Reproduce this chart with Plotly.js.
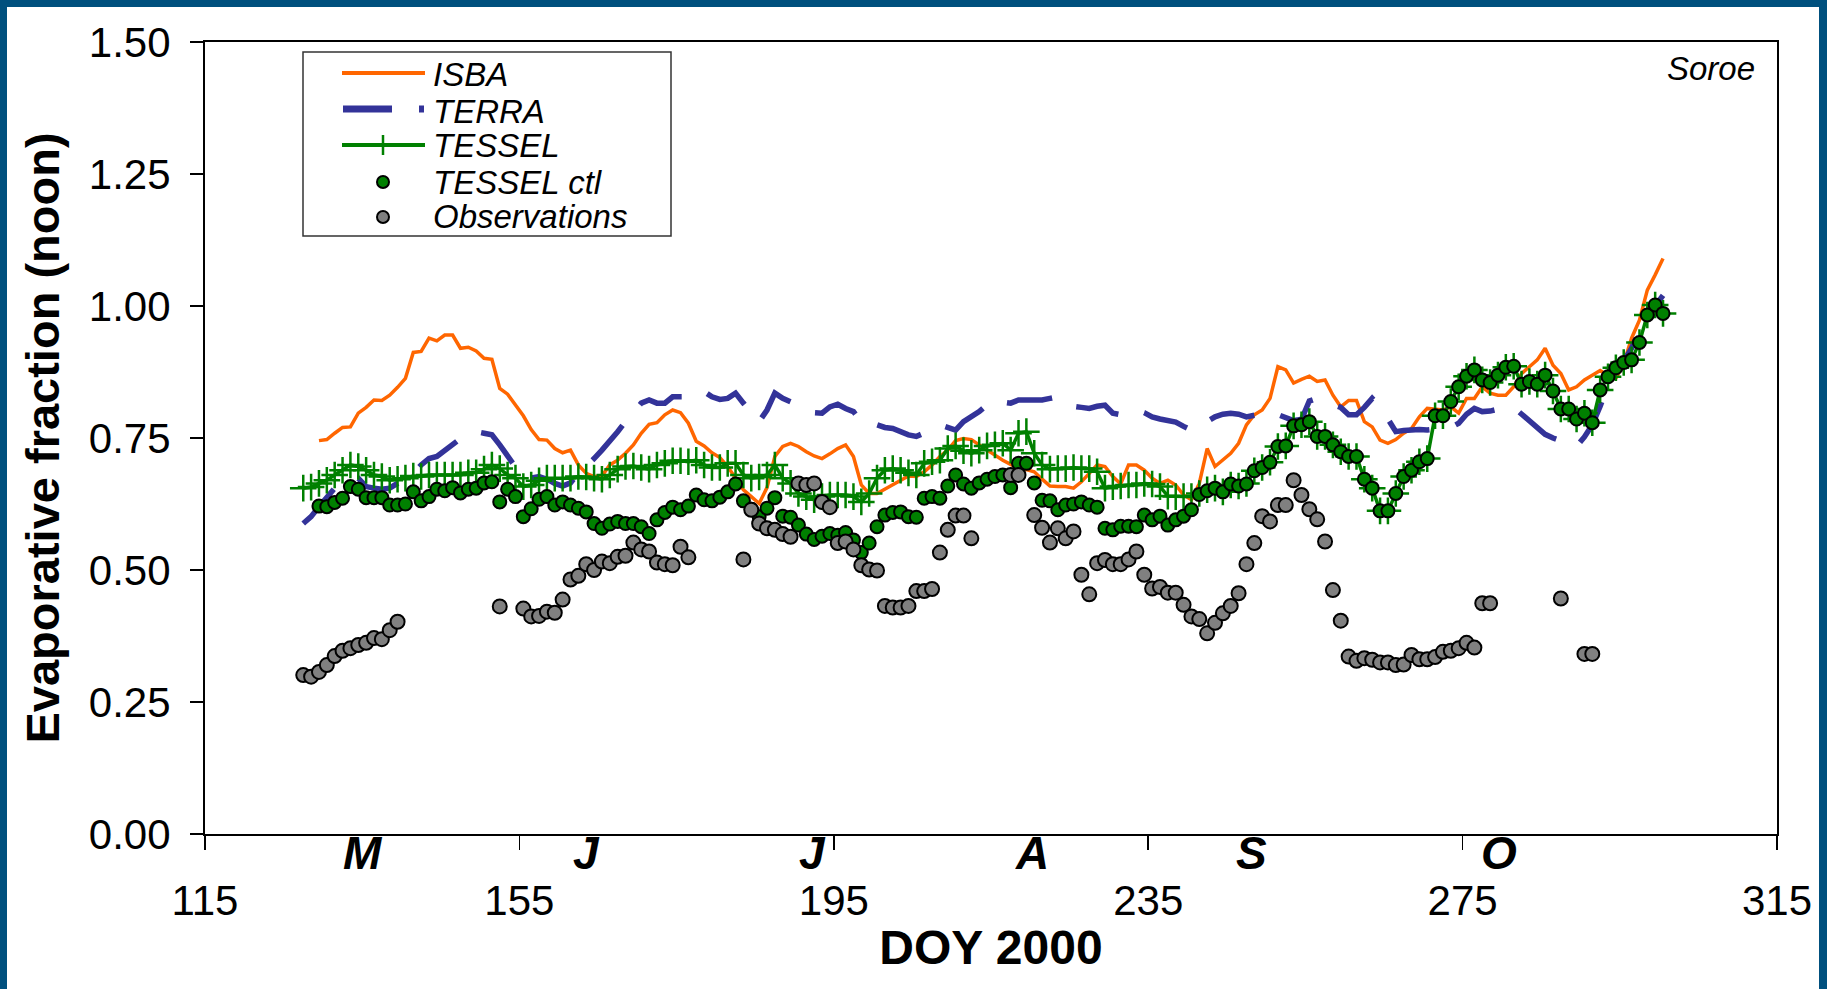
<!DOCTYPE html>
<html><head><meta charset="utf-8">
<script src="https://cdn.plot.ly/plotly-3.0.1.min.js"></script>
<style>
html,body{margin:0;padding:0;background:#00507E;width:1827px;height:989px;overflow:hidden}
#frame{position:absolute;left:7px;top:7px;width:1812px;height:982px;background:#fff}
#chart{width:1812px;height:982px}
</style></head><body><div id="frame"><div id="chart"></div></div>
<script>
// ---------------- DATA (daily noon values, DOY 2000) ----------------
const isbaStart = 129.5;
const isba = [
0.745,0.747,0.759,0.770,0.771,0.797,0.808,0.822,0.821,0.831,
0.846,0.863,0.912,0.914,0.939,0.934,0.945,0.945,0.920,0.922,
0.915,0.901,0.899,0.844,0.833,0.813,0.792,0.766,0.747,0.746,
0.730,0.722,0.727,0.699,0.683,0.677,0.678,0.699,0.708,0.721,
0.737,0.759,0.776,0.779,0.794,0.803,0.798,0.778,0.744,0.735,
0.722,0.713,0.696,0.674,0.652,0.639,0.626,0.656,0.715,0.734,
0.740,0.734,0.724,0.716,0.711,0.720,0.730,0.737,0.715,0.661,
0.645,0.645,0.653,0.661,0.670,0.678,0.677,0.686,0.699,0.715,
0.727,0.745,0.749,0.747,0.737,0.727,0.718,0.708,0.700,0.693,
0.690,0.686,0.672,0.659,0.658,0.658,0.655,0.667,0.683,0.699,
0.696,0.677,0.663,0.699,0.699,0.689,0.674,0.664,0.670,0.661,
0.642,0.633,0.664,0.730,0.696,0.708,0.721,0.740,0.775,0.794,
0.803,0.825,0.885,0.879,0.854,0.861,0.867,0.857,0.860,0.831,
0.809,0.821,0.821,0.781,0.771,0.746,0.740,0.747,0.759,0.768,
0.790,0.806,0.804,0.803,0.809,0.797,0.825,0.825,0.847,0.835,
0.831,0.831,0.847,0.872,0.885,0.898,0.920,0.888,0.872,0.841,
0.847,0.860,0.869,0.878,0.869,0.863,0.891,0.939,0.973,1.030,
1.059,1.090];

const terraStart = 127.5;
const terra = [
0.588,0.601,0.620,0.639,0.655,0.664,0.674,0.674,0.658,0.655,
0.653,0.655,0.664,0.674,0.683,0.699,0.711,0.715,0.727,0.740,
0.749,0.758,0.762,0.759,0.756,0.737,0.715,0.692,0.674,0.674,
0.677,0.672,0.664,0.659,0.665,0.683,0.696,0.711,0.727,0.743,
0.762,0.781,0.798,0.816,0.822,0.816,0.816,0.828,0.828,0.828,
0.833,0.838,0.828,0.823,0.825,0.835,0.816,0.797,0.781,0.803,
0.835,0.825,0.819,0.813,0.806,0.798,0.797,0.809,0.814,0.806,
0.800,0.781,0.784,0.775,0.770,0.768,0.762,0.756,0.753,0.759,
0.766,0.775,0.771,0.765,0.781,0.790,0.800,0.813,0.822,0.818,
0.816,0.822,0.822,0.822,0.822,0.825,0.828,0.817,0.810,0.808,
0.806,0.810,0.812,0.797,0.794,0.800,0.803,0.798,0.790,0.786,
0.784,0.780,0.772,0.765,0.778,0.781,0.790,0.795,0.797,0.795,
0.790,0.792,0.796,0.800,0.795,0.790,0.783,0.785,0.820,0.825,
0.820,0.814,0.808,0.794,0.794,0.808,0.825,0.810,0.787,0.762,
0.764,0.766,0.766,0.765,0.766,0.768,0.770,0.778,0.795,0.806,
0.800,0.801,0.805,0.808,0.808,0.796,0.782,0.771,0.757,0.750,
0.745,0.740,0.734,0.752,0.775,0.810,0.850,0.880,0.895,0.920,
0.955,0.985,1.000,1.020];

const tesselStart = 127.5;
const tessel = [
0.655,0.657,0.664,0.670,0.680,0.689,0.699,0.696,0.689,0.680,
0.677,0.670,0.672,0.674,0.678,0.677,0.680,0.680,0.680,0.680,
0.680,0.684,0.684,0.691,0.699,0.692,0.680,0.674,0.658,0.661,
0.669,0.674,0.674,0.674,0.674,0.677,0.676,0.674,0.672,0.680,
0.691,0.696,0.697,0.694,0.691,0.699,0.702,0.707,0.707,0.705,
0.708,0.699,0.694,0.694,0.702,0.702,0.680,0.674,0.676,0.680,
0.699,0.674,0.664,0.645,0.639,0.633,0.639,0.642,0.642,0.642,
0.639,0.629,0.645,0.674,0.689,0.692,0.689,0.684,0.680,0.702,
0.705,0.708,0.730,0.735,0.726,0.721,0.727,0.735,0.737,0.740,
0.727,0.759,0.762,0.721,0.699,0.691,0.692,0.692,0.694,0.692,
0.692,0.686,0.655,0.658,0.659,0.661,0.661,0.664,0.663,0.658,
0.640,0.639,0.639,0.639,0.645,0.652,0.655,0.648,0.661,0.659,
0.664,0.688,0.694,0.704,0.734,0.735,0.773,0.775,0.781,0.753,
0.753,0.737,0.724,0.715,0.715,0.672,0.655,0.612,0.612,0.645,
0.677,0.689,0.705,0.711,0.792,0.792,0.819,0.847,0.867,0.879,
0.860,0.855,0.869,0.884,0.886,0.852,0.857,0.852,0.869,0.839,
0.805,0.805,0.786,0.797,0.779,0.841,0.866,0.883,0.893,0.898,
0.931,0.983,1.002,0.986];

const ctlStart = 129.5;
const tesselCtl = [
0.621,0.620,0.628,0.636,0.658,0.653,0.637,0.637,0.637,0.623,
0.623,0.625,0.648,0.631,0.639,0.653,0.650,0.656,0.646,0.653,
0.655,0.665,0.667,0.629,0.653,0.639,0.601,0.616,0.634,0.639,
0.623,0.629,0.623,0.617,0.610,0.588,0.579,0.587,0.592,0.588,
0.588,0.582,0.569,0.595,0.609,0.619,0.614,0.621,0.642,0.633,
0.631,0.638,0.648,0.663,0.631,0.615,0.601,0.617,0.637,0.602,
0.600,0.585,0.568,0.558,0.564,0.569,0.566,0.571,0.557,0.533,
0.551,0.582,0.604,0.609,0.610,0.601,0.600,0.636,0.639,0.636,
0.659,0.680,0.663,0.655,0.665,0.672,0.677,0.680,0.656,0.702,
0.702,0.665,0.632,0.631,0.614,0.623,0.625,0.629,0.623,0.619,
0.579,0.576,0.583,0.583,0.582,0.604,0.595,0.602,0.585,0.595,
0.602,0.614,0.643,0.650,0.655,0.648,0.663,0.659,0.663,0.688,
0.694,0.704,0.734,0.735,0.773,0.775,0.781,0.753,0.753,0.737,
0.724,0.715,0.715,0.672,0.655,0.612,0.612,0.645,0.677,0.689,
0.705,0.711,0.792,0.792,0.819,0.847,0.867,0.879,0.860,0.855,
0.869,0.884,0.886,0.852,0.857,0.852,0.869,0.839,0.805,0.805,
0.786,0.797,0.779,0.841,0.866,0.883,0.893,0.898,0.931,0.983,
1.002,0.986];

const obsStart = 127.5;
const observations = [
0.301,0.298,0.307,0.320,0.337,0.347,0.352,0.358,0.362,0.371,
0.369,0.386,0.402,null,null,null,null,null,null,null,
null,null,null,null,null,0.431,null,null,0.427,0.412,
0.413,0.421,0.419,0.444,0.482,0.489,0.511,0.500,0.516,0.513,
0.525,0.527,0.552,0.539,0.535,0.514,0.511,0.509,0.544,0.524,
null,null,null,null,null,null,0.520,0.614,0.588,0.579,
0.576,0.568,0.563,0.664,0.661,0.664,0.629,0.619,0.551,0.554,
0.539,0.509,0.501,0.499,0.432,0.429,0.429,0.432,0.460,0.460,
0.464,0.533,0.576,0.603,0.603,0.560,null,null,null,null,
0.680,0.680,null,0.604,0.580,0.552,0.579,0.560,0.573,0.491,
0.454,0.513,0.519,0.511,0.511,0.520,0.535,0.491,0.465,0.468,
0.457,0.457,0.434,0.412,0.407,0.380,0.400,0.418,0.432,0.456,
0.511,0.551,0.602,0.592,0.623,0.623,0.670,0.642,0.615,0.596,
0.554,0.462,0.404,0.336,0.328,0.333,0.330,0.325,0.325,0.320,
0.321,0.339,0.331,0.331,0.335,0.345,0.347,0.352,0.362,0.353,
0.437,0.437,null,null,null,null,null,null,null,null,
0.446,null,null,0.341,0.341];

const seriesNames = ['ISBA','TERRA','TESSEL','TESSEL ctl','Observations'];
const xTicks = [115,155,195,235,275,315];
const yTicks = [0,0.25,0.5,0.75,1.0,1.25,1.5];
const monthLabels = ['M','J','J','A','S','O'];
const monthPos = [135.1,163.5,192.3,220.2,248.1,279.6];
const siteName = 'Soroe';
const xTitle = 'DOY 2000';
const yTitle = 'Evaporative fraction (noon)';

// ---------------- STYLE / LAYOUT ----------------
const FONT = 'Liberation Sans, Arial, Helvetica, sans-serif';
const C = {isba:'#FF6600', terra:'#333399', tessel:'#008000', ctl:'#008000', obs:'#808080'};
const days = (start, vals) => vals.map((v,i) => start + i);
// page-pixel geometry of the plotting box
const G = {L:205, R:1777, T:42, B:834};
const px = x => (x - G.L) / (G.R - G.L);
const py = y => (G.B - y) / (G.B - G.T);

const traces = [
  {x: days(isbaStart, isba), y: isba, name: seriesNames[0], mode:'lines',
   line:{color:C.isba, width:3.5}, showlegend:false},
  {x: days(terraStart, terra), y: terra, name: seriesNames[1], mode:'lines',
   line:{color:C.terra, width:5.5, dash:'46px,27px'}, showlegend:false},
  {x: days(tesselStart, tessel), y: tessel, name: seriesNames[2], mode:'lines+markers',
   line:{color:C.tessel, width:3.5},
   marker:{symbol:'cross-thin', size:19, color:C.tessel, line:{color:C.tessel, width:2.5}}, showlegend:false},
  {x: days(ctlStart, tesselCtl), y: tesselCtl, name: seriesNames[3], mode:'markers',
   marker:{symbol:'circle', size:13, color:C.ctl, line:{color:'#000', width:2}}, showlegend:false},
  {x: days(obsStart, observations), y: observations, name: seriesNames[4], mode:'markers',
   marker:{symbol:'circle', size:14, color:C.obs, line:{color:'#000', width:2}}, showlegend:false}
];

// hand-built legend (matches the compact original box)
const legRows = [73, 109, 145, 182, 217];
const legText = [74, 111, 146, 182, 217];
const shapes = [
  {type:'rect', xref:'paper', yref:'paper', x0:px(303), x1:px(671), y0:py(236), y1:py(52),
   line:{color:'#333', width:1.5}, fillcolor:'#fff', layer:'above'},
  {type:'line', xref:'paper', yref:'paper', x0:px(342), x1:px(425), y0:py(legRows[0]), y1:py(legRows[0]),
   line:{color:C.isba, width:4}},
  {type:'line', xref:'paper', yref:'paper', x0:px(343), x1:px(424), y0:py(legRows[1]), y1:py(legRows[1]),
   line:{color:C.terra, width:7, dash:'49px,27px'}},
  {type:'line', xref:'paper', yref:'paper', x0:px(342), x1:px(425), y0:py(legRows[2]), y1:py(legRows[2]),
   line:{color:C.tessel, width:4}},
  {type:'line', xref:'paper', yref:'paper', x0:px(383), x1:px(383), y0:py(legRows[2]-10), y1:py(legRows[2]+10),
   line:{color:C.tessel, width:2.5}},
  {type:'circle', xref:'paper', yref:'paper', xsizemode:'pixel', ysizemode:'pixel',
   xanchor:px(383), yanchor:py(legRows[3]), x0:-6, x1:6, y0:-6, y1:6,
   fillcolor:C.ctl, line:{color:'#000', width:2}},
  {type:'circle', xref:'paper', yref:'paper', xsizemode:'pixel', ysizemode:'pixel',
   xanchor:px(383), yanchor:py(legRows[4]), x0:-6, x1:6, y0:-6, y1:6,
   fillcolor:C.obs, line:{color:'#000', width:2}}
];

const annotations = [];
seriesNames.forEach((n, i) => annotations.push({
  text:n, xref:'paper', yref:'paper', x:px(431), y:py(legText[i]), xanchor:'left', yanchor:'middle',
  showarrow:false, font:{family:FONT, size:33, style:'italic', color:'#000'}
}));
monthLabels.forEach((m, i) => annotations.push({
  text:m, xref:'x', yref:'paper', x:monthPos[i], y:py(853), xanchor:'center', yanchor:'middle',
  height:36, valign:'middle',
  showarrow:false, font:{family:FONT, size:46, style:'italic', weight:'bold', color:'#000'}
}));
annotations.push({text:siteName, xref:'paper', yref:'paper', x:px(1757), y:py(68), xanchor:'right', yanchor:'middle',
  showarrow:false, font:{family:FONT, size:33, style:'italic', color:'#000'}});

const axisCommon = {
  showgrid:false, zeroline:false, showline:true, linecolor:'#000', linewidth:2, mirror:true,
  ticks:'outside', tickcolor:'#000', tickwidth:1.5,
  tickfont:{family:FONT, size:42, color:'#000'}
};

const layout = {
  width:1812, height:982,
  margin:{l:G.L-7, r:1819-G.R, t:G.T-7, b:989-G.B, pad:0},
  paper_bgcolor:'#fff', plot_bgcolor:'#fff',
  font:{family:FONT, color:'#000'},
  showlegend:false,
  xaxis:Object.assign({}, axisCommon, {
    range:[115,315], tickmode:'array', tickvals:xTicks, ticktext:xTicks.map(String),
    ticklen:14, ticklabelstandoff:15,
    title:{text:xTitle, font:{family:FONT, size:48, weight:'bold', color:'#000'}, standoff:7}
  }),
  yaxis:Object.assign({}, axisCommon, {
    range:[0,1.5], tickmode:'array', tickvals:yTicks, ticktext:yTicks.map(v => v.toFixed(2)),
    ticklen:13, ticklabelstandoff:11,
    title:{text:yTitle, font:{family:FONT, size:47, weight:'bold', color:'#000'}, standoff:14}
  }),
  shapes:shapes,
  annotations:annotations
};

Plotly.newPlot('chart', traces, layout, {displayModeBar:false, staticPlot:true});
</script>
</body></html>
